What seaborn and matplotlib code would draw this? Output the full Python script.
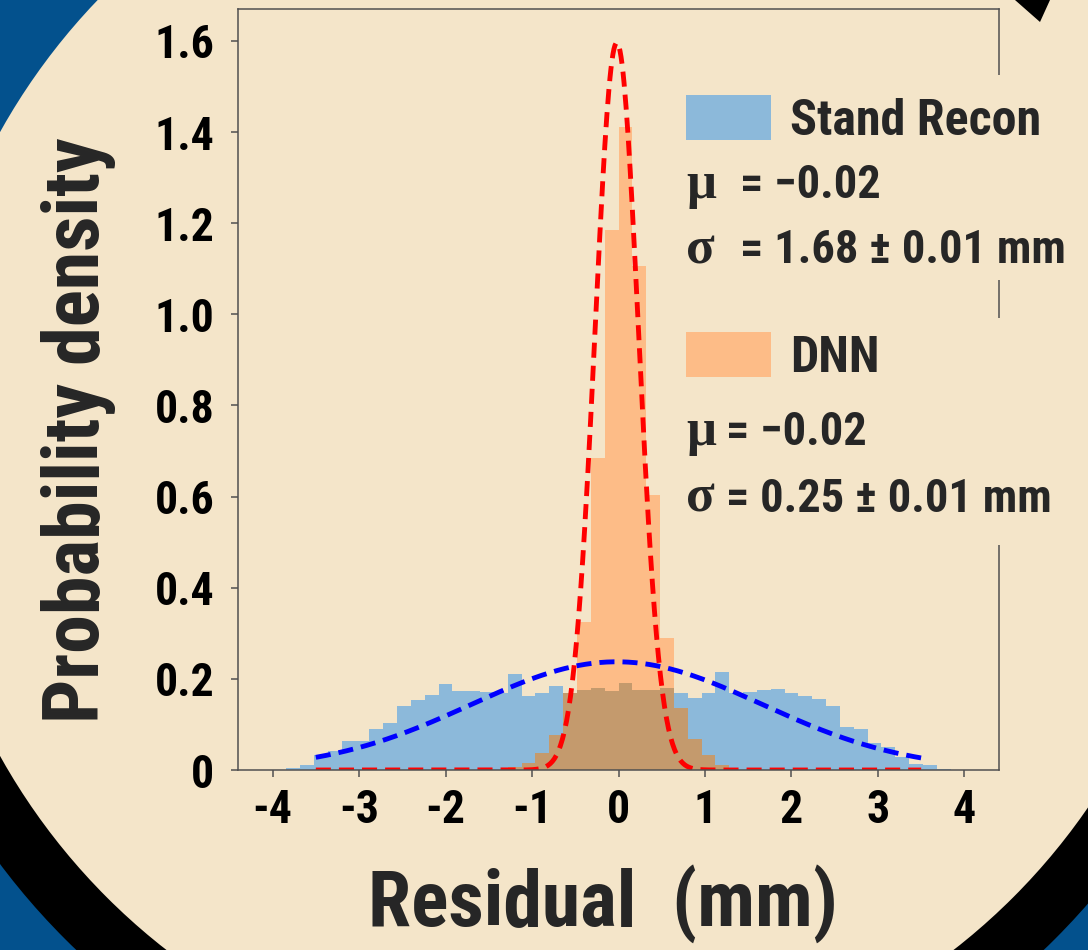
import numpy as np
import pandas as pd
import matplotlib
matplotlib.use("Agg")
import matplotlib.pyplot as plt
from matplotlib import font_manager
from matplotlib.patches import Circle, Wedge, Rectangle, Polygon, Patch
import seaborn as sns

# ---------------------------------------------------------------- data
# Residual histograms, 50 bins of 0.16 mm between -4 and 4 mm (density)
bin_range = (-4.0, 4.0)
bin_width = 0.16
stand_density = [0.000, 0.004, 0.010, 0.033, 0.042, 0.064, 0.064, 0.091, 0.103, 0.140,
                 0.154, 0.165, 0.188, 0.174, 0.174, 0.171, 0.170, 0.211, 0.162, 0.170,
                 0.185, 0.168, 0.175, 0.180, 0.174, 0.192, 0.175, 0.176, 0.181, 0.169,
                 0.159, 0.169, 0.214, 0.168, 0.171, 0.175, 0.177, 0.170, 0.162, 0.156,
                 0.140, 0.094, 0.089, 0.059, 0.050, 0.029, 0.013, 0.010, 0.003, 0.000]
dnn_density = [0.000, 0.000, 0.000, 0.000, 0.000, 0.000, 0.000, 0.000, 0.000, 0.000,
               0.000, 0.000, 0.000, 0.000, 0.000, 0.000, 0.000, 0.007, 0.015, 0.037,
               0.077, 0.170, 0.325, 0.685, 1.185, 1.410, 1.106, 0.604, 0.290, 0.135,
               0.067, 0.033, 0.011, 0.000, 0.000, 0.000, 0.000, 0.000, 0.000, 0.000,
               0.000, 0.000, 0.000, 0.000, 0.000, 0.000, 0.000, 0.000, 0.000, 0.000]

# Gaussian fits
stand_mu, stand_sigma, stand_err = -0.02, 1.68, 0.01
dnn_mu, dnn_sigma, dnn_err = -0.02, 0.25, 0.01
fit_low, fit_high = -3.5, 3.5

series_names = ["Stand Recon", "DNN"]
x_ticks = [-4, -3, -2, -1, 0, 1, 2, 3, 4]
x_tick_labels = ["-4", "-3", "-2", "-1", "0", "1", "2", "3", "4"]
y_ticks = [0.0, 0.2, 0.4, 0.6, 0.8, 1.0, 1.2, 1.4, 1.6]
y_tick_labels = ["0", "0.2", "0.4", "0.6", "0.8", "1.0", "1.2", "1.4", "1.6"]
x_label = "Residual  (mm)"
y_label = "Probability density"

# ---------------------------------------------------------------- style
BEIGE = "#F4E5C9"
NAVY = "#03518D"
BLUE_BAR = "#8CB9DA"
ORANGE_BAR = "#FDBC87"
TAN = "#C49A6D"
SPINE = "#505050"

sns.set_style("ticks")
installed = {f.name for f in font_manager.fontManager.ttflist}


def pick(candidates, fallback):
    for name in candidates:
        if name in installed:
            return name
    return fallback


COND = pick(["Liberation Sans Narrow", "DejaVu Sans Condensed", "Roboto Condensed"], "DejaVu Sans")
SERIF = pick(["Liberation Serif", "DejaVu Serif"], "serif")
plt.rcParams["font.family"] = [COND, "DejaVu Sans"]
plt.rcParams["font.weight"] = "bold"

W, H = 1088, 950
fig = plt.figure(figsize=(W / 100, H / 100), dpi=100)
fig.patch.set_facecolor(BEIGE)

# ---------------------------------------------------------------- backdrop
bg = fig.add_axes([0, 0, 1, 1], zorder=-10)
bg.set_xlim(0, W)
bg.set_ylim(H, 0)
bg.axis("off")
cx, cy = 560, 444
bg.add_patch(Rectangle((0, 0), W, H, color=NAVY, lw=0))
bg.add_patch(Wedge((cx, cy), 700, 0, 180, color="black", lw=0))
bg.add_patch(Circle((cx, cy), 641, color=BEIGE, lw=0))
bg.add_patch(Rectangle((800, 0), W - 800, cy, color=BEIGE, lw=0))
bg.add_patch(Polygon([(1015, 0), (1050, 0), (1040, 22)], closed=True, color="black", lw=0))

# ---------------------------------------------------------------- main axes
ax = fig.add_axes([238 / W, 1 - 770 / H, 761 / W, 761 / H])
ax.set_facecolor("none")

n_bins = len(stand_density)
centers = bin_range[0] + bin_width * (np.arange(n_bins) + 0.5)
hist_df = pd.DataFrame({
    "residual": centers,
    "stand": stand_density,
    "dnn": dnn_density,
})
hist_df["overlap"] = np.minimum(hist_df["stand"], hist_df["dnn"])

hist_kw = dict(data=hist_df, x="residual", binwidth=bin_width, binrange=bin_range,
               stat="count", element="bars", alpha=1.0, linewidth=0, ax=ax)
sns.histplot(weights="stand", color=BLUE_BAR, **hist_kw)
sns.histplot(weights="dnn", color=ORANGE_BAR, **hist_kw)
sns.histplot(weights="overlap", color=TAN, **hist_kw)

xs = np.linspace(fit_low, fit_high, 600)


def gauss(x, mu, sigma):
    return np.exp(-0.5 * ((x - mu) / sigma) ** 2) / (sigma * np.sqrt(2 * np.pi))


fit_df = pd.DataFrame({
    "x": xs,
    "stand": gauss(xs, stand_mu, stand_sigma),
    "dnn": gauss(xs, dnn_mu, dnn_sigma),
})
line_kw = dict(data=fit_df, x="x", ax=ax, legend=False)
sns.lineplot(y="stand", color="blue", **line_kw)
sns.lineplot(y="dnn", color="red", **line_kw)
for line in ax.get_lines():
    line.set_linewidth(3.5)
    line.set_dashes((3.1, 1.65))
    line.set_dash_capstyle("butt")

ax.set_xlim(-4.4, 4.4)
ax.set_ylim(0, 1.67)
ax.set_xticks(x_ticks, x_tick_labels)
ax.set_yticks(y_ticks, y_tick_labels)
for side in ["left", "right", "top", "bottom"]:
    ax.spines[side].set_visible(True)
    ax.spines[side].set_color(SPINE)
    ax.spines[side].set_linewidth(1.1)
ax.tick_params(axis="both", direction="out", length=5, width=1.1, color=SPINE,
               labelsize=33, labelcolor="black")
ax.tick_params(axis="y", pad=12)
ax.tick_params(axis="x", pad=8)

ax.set_xlabel(x_label, fontsize=56, fontweight="bold")
ax.set_ylabel(y_label, fontsize=56, fontweight="bold")
ax.xaxis.set_label_coords(0.48, -0.124)
ax.yaxis.set_label_coords(-0.16, 0.447)

# ---------------------------------------------------------------- legends
for top, bottom in [(75, 280), (318, 545)]:
    fig.patches.append(Rectangle((680 / W, 1 - bottom / H), (W - 680) / W, (bottom - top) / H,
                                 transform=fig.transFigure, color=BEIGE, lw=0, zorder=1))

leg_kw = dict(loc="center left", frameon=False, fontsize=36, handlelength=1.7,
              handleheight=1.0, handletextpad=0.38, borderpad=0, borderaxespad=0)
fig.legend(handles=[Patch(color=BLUE_BAR, lw=0)], labels=[series_names[0]],
           bbox_to_anchor=(686 / W, 1 - 120 / H), **leg_kw)
fig.legend(handles=[Patch(color=ORANGE_BAR, lw=0)], labels=[series_names[1]],
           bbox_to_anchor=(686 / W, 1 - 357 / H), **leg_kw)


def stat_line(symbol, text, x_text, baseline):
    fig.text(686 / W, 1 - baseline / H, symbol, family=SERIF, fontweight="bold",
             fontsize=38, va="baseline", ha="left")
    fig.text(x_text / W, 1 - baseline / H, text, fontsize=33.5, fontweight="bold",
             va="baseline", ha="left")


stat_line("μ", f"= −{abs(stand_mu):.2f}", 740, 198)
stat_line("σ", f"= {stand_sigma:.2f} ± {stand_err:.2f} mm", 740, 263)
stat_line("μ", f"= −{abs(dnn_mu):.2f}", 726, 445)
stat_line("σ", f"= {dnn_sigma:.2f} ± {dnn_err:.2f} mm", 726, 512)

fig.savefig("out.png", dpi=100, facecolor=fig.get_facecolor())
